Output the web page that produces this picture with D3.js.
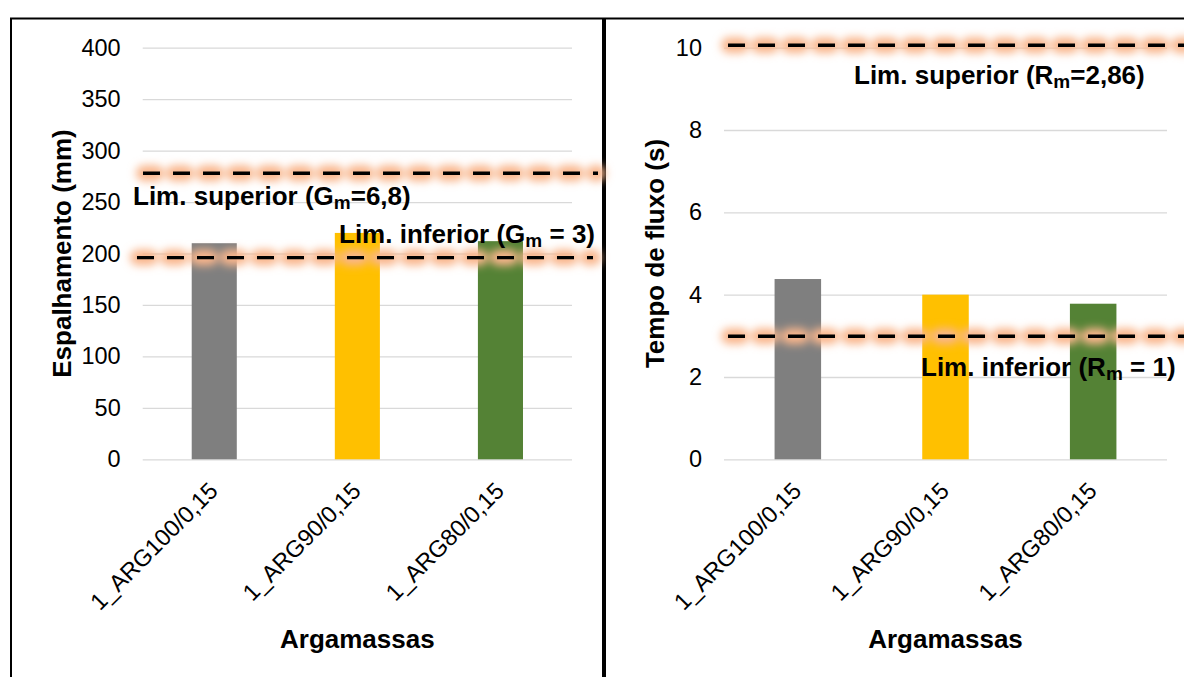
<!DOCTYPE html>
<html>
<head>
<meta charset="utf-8">
<script src="https://d3js.org/d3.v7.min.js"></script>
<style>
  body { margin: 0; background: #fff; }
  svg { display: block; font-family: "Liberation Sans", Arial, sans-serif; }
</style>
</head>
<body>
<svg id="chart" width="1184" height="677"></svg>
<script>
// data
const categories = ["1_ARG100/0,15", "1_ARG90/0,15", "1_ARG80/0,15"];
const barColors = ["#7f7f7f", "#ffc000", "#548235"];

const spreadValues = [210, 220, 212];      // Espalhamento (mm)
const spreadTicks = [0, 50, 100, 150, 200, 250, 300, 350, 400];
const spreadLimits = [278, 196];           // superior, inferior
const spreadLimitLabels = [["Lim. superior (G", "m", "=6,8)"], ["Lim. inferior (G", "m", " = 3)"]];

const flowValues = [4.38, 4.0, 3.78];      // Tempo de fluxo (s)
const flowTicks = [0, 2, 4, 6, 8, 10];
const flowLimits = [10.06, 2.99];
const flowLimitLabels = [["Lim. superior (R", "m", "=2,86)"], ["Lim. inferior (R", "m", " = 1)"]];

const svg = d3.select("#chart");

// glow filter for the limit lines (user space, a flat line has no bbox height)
const defs = svg.append("defs");
defs.append("filter")
  .attr("id", "glow")
  .attr("filterUnits", "userSpaceOnUse")
  .attr("x", 0).attr("y", 0)
  .attr("width", 1184).attr("height", 677)
  .append("feGaussianBlur")
  .attr("stdDeviation", 4);

// panel frames
svg.append("rect")
  .attr("x", 11).attr("y", 18.5).attr("width", 592).attr("height", 700)
  .attr("fill", "none").attr("stroke", "#000").attr("stroke-width", 2);
svg.append("rect")
  .attr("x", 605).attr("y", 18.5).attr("width", 600).attr("height", 700)
  .attr("fill", "none").attr("stroke", "#000").attr("stroke-width", 2);

function drawPanel(p) {
  const g = svg.append("g");
  const top = 47.7, bottom = 459.3;

  const x = d3.scaleBand()
    .domain(categories)
    .range([p.x0, p.x1])
    .paddingInner(0.685)
    .paddingOuter(0.3425);

  const y = d3.scaleLinear()
    .domain([0, p.ticks[p.ticks.length - 1]])
    .range([bottom, top]);

  // gridlines + y tick labels
  const yAxis = g.append("g")
    .attr("transform", "translate(" + p.x0 + ",0)")
    .call(d3.axisLeft(y)
      .tickValues(p.ticks)
      .tickSize(-(p.x1 - p.x0))
      .tickPadding(22)
      .tickFormat(d3.format("d")));
  yAxis.select(".domain").remove();
  yAxis.selectAll("line").attr("stroke", "#d9d9d9").attr("stroke-width", 1.3);
  yAxis.selectAll("text")
    .attr("fill", "#000")
    .style("font-size", "23.5px");

  // bars
  g.selectAll("rect.bar")
    .data(p.values)
    .enter()
    .append("rect")
    .attr("class", "bar")
    .attr("x", (d, i) => x(categories[i]))
    .attr("width", x.bandwidth())
    .attr("y", d => y(d))
    .attr("height", d => bottom - y(d))
    .attr("fill", (d, i) => barColors[i]);

  // x tick labels
  g.selectAll("text.cat")
    .data(categories)
    .enter()
    .append("text")
    .attr("class", "cat")
    .attr("text-anchor", "end")
    .attr("transform", d => "translate(" + (x(d) + x.bandwidth() / 2 + 5) + "," + (bottom + 33) + ") rotate(-45)")
    .style("font-size", "23.5px")
    .text(d => d);

  // limit lines: blurred orange halo, then the black dashes
  p.limits.forEach(function (v, i) {
    const ext = p.lineExt[i];
    const yy = y(v);
    g.append("line")
      .attr("x1", ext[0] - 1).attr("x2", ext[1])
      .attr("y1", yy).attr("y2", yy)
      .attr("stroke", "#f9b68c")
      .attr("stroke-width", 16)
      .attr("stroke-linecap", "round")
      .attr("stroke-dasharray", "12,18")
      .attr("stroke-dashoffset", -2)
      .attr("filter", "url(#glow)");
    g.append("line")
      .attr("x1", ext[0]).attr("x2", ext[1])
      .attr("y1", yy).attr("y2", yy)
      .attr("stroke", "#000")
      .attr("stroke-width", 3.3)
      .attr("stroke-dasharray", "17,13");

    const lab = p.labels[i];
    const t = g.append("text")
      .attr("x", p.labelPos[i][0])
      .attr("y", yy + p.labelPos[i][1])
      .style("font-size", "26px")
      .style("font-weight", "bold");
    t.append("tspan").text(lab[0]);
    t.append("tspan").attr("dy", 4).style("font-size", "19px").text(lab[1]);
    t.append("tspan").attr("dy", -4).text(lab[2]);
  });

  // axis titles
  g.append("text")
    .attr("x", (p.x0 + p.x1) / 2)
    .attr("y", 648)
    .attr("text-anchor", "middle")
    .style("font-size", "26px")
    .style("font-weight", "bold")
    .text("Argamassas");

  g.append("text")
    .attr("transform", "translate(" + p.titleX + "," + (top + bottom) / 2 + ") rotate(-90)")
    .attr("text-anchor", "middle")
    .style("font-size", "26px")
    .style("font-weight", "bold")
    .text(p.title);
}

drawPanel({
  x0: 142.7, x1: 572,
  values: spreadValues, ticks: spreadTicks,
  limits: spreadLimits, labels: spreadLimitLabels,
  lineExt: [[143, 598], [137, 593]],
  labelPos: [[133, 31.5], [339, -15]],
  title: "Espalhamento (mm)", titleX: 71
});

drawPanel({
  x0: 724, x1: 1167,
  values: flowValues, ticks: flowTicks,
  limits: flowLimits, labels: flowLimitLabels,
  lineExt: [[728, 1195], [728, 1195]],
  labelPos: [[854, 38.5], [921, 40]],
  title: "Tempo de fluxo (s)", titleX: 664
});
</script>
</body>
</html>
